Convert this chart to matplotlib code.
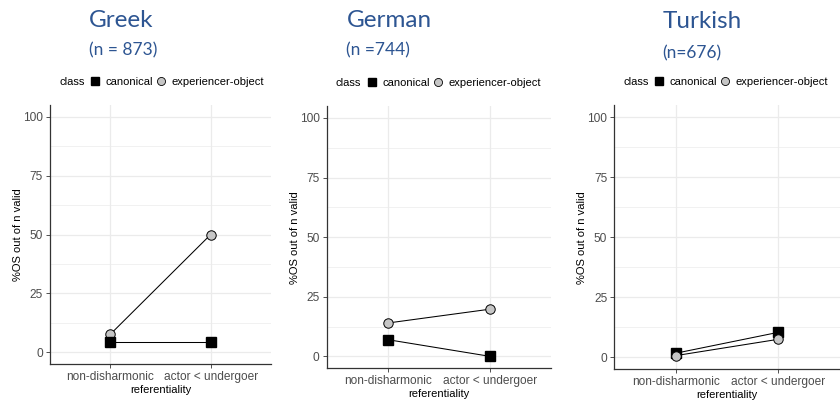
import matplotlib
matplotlib.use("Agg")
import matplotlib.pyplot as plt
from matplotlib.lines import Line2D
from matplotlib.ticker import MultipleLocator

plt.rcParams["font.family"] = ["Liberation Sans", "DejaVu Sans"]

categories = ["non-disharmonic", "actor < undergoer"]
languages = ["Greek", "German", "Turkish"]
sample_sizes = ["(n = 873)", "(n =744)", "(n=676)"]

greek_canonical = [4.2, 4.2]
greek_exp_obj = [7.6, 50.0]
german_canonical = [7.0, 0.0]
german_exp_obj = [14.0, 19.8]
turkish_canonical = [1.7, 10.4]
turkish_exp_obj = [0.7, 7.5]

canonical = [greek_canonical, german_canonical, turkish_canonical]
exp_obj = [greek_exp_obj, german_exp_obj, turkish_exp_obj]
# which class sits on top where the markers overlap
canonical_on_top = [True, True, False]

W, H = 840, 403
# panel boxes in pixels: left, top, right, bottom
panels = [(50, 105, 271, 364), (326.7, 106, 551.4, 368.3), (614.3, 105, 840, 369.3)]
title_pos = [(89, 27, 55), (346.5, 27.3, 55.5), (662.7, 28.3, 58.3)]
legend_pos = [(59, 82), (336, 83), (623, 82)]

title_color = "#2D5592"
grid_color = "#EBEBEB"
circle_fill = "#C6C6C6"

fig = plt.figure(figsize=(W / 100, H / 100), dpi=100)

for i, (l, t, r, b) in enumerate(panels):
    ax = fig.add_axes([l / W, 1 - b / H, (r - l) / W, (b - t) / H])
    wpx, hpx = r - l, b - t

    z_can, z_exp = (4, 3) if canonical_on_top[i] else (3, 4)
    ax.plot(categories, canonical[i], color="black", lw=0.75, marker="s",
            markersize=6.5, mfc="black", mec="black", zorder=z_can)
    ax.plot(categories, exp_obj[i], color="black", lw=0.75, marker="o",
            markersize=6.8, mfc=circle_fill, mec="black", mew=0.7, zorder=z_exp)

    ax.set_xlim(-0.6, 1.6)
    ax.set_ylim(-5, 105)
    ax.yaxis.set_major_locator(MultipleLocator(25))
    ax.yaxis.set_minor_locator(MultipleLocator(12.5))
    ax.grid(True, which="major", color=grid_color, lw=0.9)
    ax.grid(True, which="minor", axis="y", color=grid_color, lw=0.5)
    ax.set_axisbelow(True)

    for side in ("top", "right"):
        ax.spines[side].set_visible(False)
    for side in ("left", "bottom"):
        ax.spines[side].set_color("#333333")
        ax.spines[side].set_linewidth(0.9)

    ax.tick_params(which="major", length=2.8, width=0.6, color="#333333",
                   labelcolor="#4D4D4D", labelsize=8.6, pad=2.3)
    ax.tick_params(which="minor", length=0)

    ax.set_xlabel("referentiality", fontsize=8, va="center")
    ax.xaxis.set_label_coords(0.5, -26 / hpx)
    ax.set_ylabel("%OS out of n valid", fontsize=8, va="center")
    ax.yaxis.set_label_coords(-32 / wpx, 0.5)

    tx, ty1, ty2 = title_pos[i]
    fig.text(tx / W, 1 - ty1 / H, languages[i], fontsize=17.5, family="Lato",
             color=title_color, va="baseline", ha="left")
    fig.text(tx / W, 1 - ty2 / H, sample_sizes[i], fontsize=12.5, family="Lato",
             color=title_color, va="baseline", ha="left")

    lx, ly = legend_pos[i]
    fig.text(lx / W, 1 - ly / H, "class", fontsize=8, va="center", ha="left")
    handles = [
        Line2D([], [], ls="none", marker="s", markersize=5.8, mfc="black", mec="black"),
        Line2D([], [], ls="none", marker="o", markersize=5.8, mfc=circle_fill,
               mec="black", mew=0.6),
    ]
    fig.legend(handles, ["canonical", "experiencer-object"], loc="center left",
               bbox_to_anchor=((lx + 32) / W, 1 - ly / H), ncol=2, frameon=False,
               fontsize=8, handlelength=0.8, handletextpad=0.5, columnspacing=0.35,
               borderpad=0, borderaxespad=0)

fig.savefig("out.png", dpi=100)
